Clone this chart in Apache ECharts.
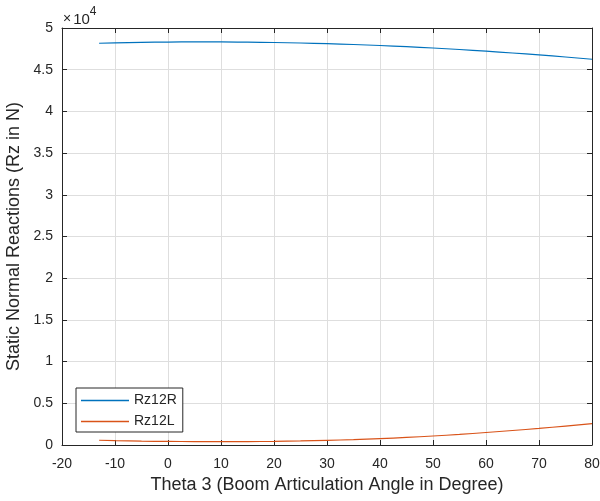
<!DOCTYPE html>
<html>
<head>
<meta charset="utf-8">
<script src="https://cdn.jsdelivr.net/npm/echarts@6/dist/echarts.min.js"></script>
<style>
  html, body { margin: 0; padding: 0; background: #fff; }
  #chart { width: 600px; height: 501px; }
</style>
</head>
<body>
<div id="chart"></div>
<script>
// boom angle (deg)
const theta = [-13, -10, -5, 0, 5, 10, 15, 20, 25, 30, 35, 40, 45, 50, 55, 60, 65, 70, 75, 80];
// static normal reactions (N)
const rz12R = [48170, 48220, 48280, 48310, 48330, 48330, 48300, 48260, 48200, 48120, 48020, 47900, 47760, 47600, 47420, 47220, 47000, 46770, 46520, 46250];
const rz12L = [570, 520, 460, 430, 410, 400, 410, 440, 490, 560, 650, 770, 910, 1080, 1270, 1500, 1740, 1990, 2270, 2560];
const seriesNames = ['Rz12R', 'Rz12L'];

const txt = '#262626';
const font = 'Liberation Sans, Arial, Helvetica, sans-serif';

const chart = echarts.init(document.getElementById('chart'));

const frameAxis = {
    axisLine: { show: true, onZero: false, lineStyle: { color: txt, width: 1 } },
    axisTick: { show: true, inside: true, length: 5, lineStyle: { color: txt } },
    axisLabel: { show: false },
    splitLine: { show: false }
};

const option = {
    animation: false,
    textStyle: { fontFamily: font },
    grid: { left: 62, right: 8, top: 28, bottom: 56, outerBoundsMode: 'none', containLabel: false },
    legend: {
        orient: 'vertical',
        left: 76,
        top: 388,
        data: seriesNames,
        icon: 'rect',
        itemWidth: 48,
        itemHeight: 1.5,
        itemGap: 6,
        padding: [5, 6, 3, 5],
        borderColor: txt,
        borderWidth: 1,
        borderRadius: 0,
        backgroundColor: '#fff',
        textStyle: { color: txt, fontSize: 14, fontFamily: font, lineHeight: 15 }
    },
    graphic: [{
        type: 'text',
        left: 63,
        top: 6,
        style: {
            text: '{x|×}{a|10}{b|4}',
            rich: {
                x: { fontSize: 14, fill: txt, fontFamily: font, padding: [6, 2, 0, 0] },
                a: { fontSize: 15, fill: txt, fontFamily: font, padding: [6, 0, 0, 0] },
                b: { fontSize: 12, fill: txt, fontFamily: font, verticalAlign: 'top' }
            }
        }
    }],
    xAxis: [{
        type: 'value',
        min: -20,
        max: 80,
        interval: 10,
        name: 'Theta 3 (Boom Articulation Angle in Degree)',
        nameLocation: 'middle',
        nameGap: 27,
        nameTextStyle: { color: txt, fontSize: 18, fontFamily: font },
        axisLine: { show: true, onZero: false, lineStyle: { color: txt } },
        axisTick: { show: true, inside: true, length: 5, lineStyle: { color: txt } },
        axisLabel: { color: txt, fontSize: 14, margin: 12 },
        splitLine: { show: true, lineStyle: { color: '#dedede', width: 1 } }
    }, Object.assign({
        type: 'value', position: 'top', min: -20, max: 80, interval: 10
    }, frameAxis)],
    yAxis: [{
        type: 'value',
        min: 0,
        max: 50000,
        interval: 5000,
        name: 'Static Normal Reactions (Rz in N)',
        nameLocation: 'middle',
        nameGap: 36,
        nameTextStyle: { color: txt, fontSize: 18, fontFamily: font },
        axisLine: { show: true, onZero: false, lineStyle: { color: txt } },
        axisTick: { show: true, inside: true, length: 5, lineStyle: { color: txt } },
        axisLabel: {
            color: txt, fontSize: 14, margin: 9,
            formatter: v => String(v / 10000)
        },
        splitLine: { show: true, lineStyle: { color: '#dedede', width: 1 } }
    }, Object.assign({
        type: 'value', position: 'right', min: 0, max: 50000, interval: 5000
    }, frameAxis)],
    series: [{
        name: seriesNames[0],
        type: 'line',
        smooth: true,
        symbol: 'none',
        data: theta.map((t, i) => [t, rz12R[i]]),
        lineStyle: { color: '#0072BD', width: 1.2 },
        itemStyle: { color: '#0072BD' }
    }, {
        name: seriesNames[1],
        type: 'line',
        smooth: true,
        symbol: 'none',
        data: theta.map((t, i) => [t, rz12L[i]]),
        lineStyle: { color: '#D95319', width: 1.2 },
        itemStyle: { color: '#D95319' }
    }]
};

chart.setOption(option);
</script>
</body>
</html>
